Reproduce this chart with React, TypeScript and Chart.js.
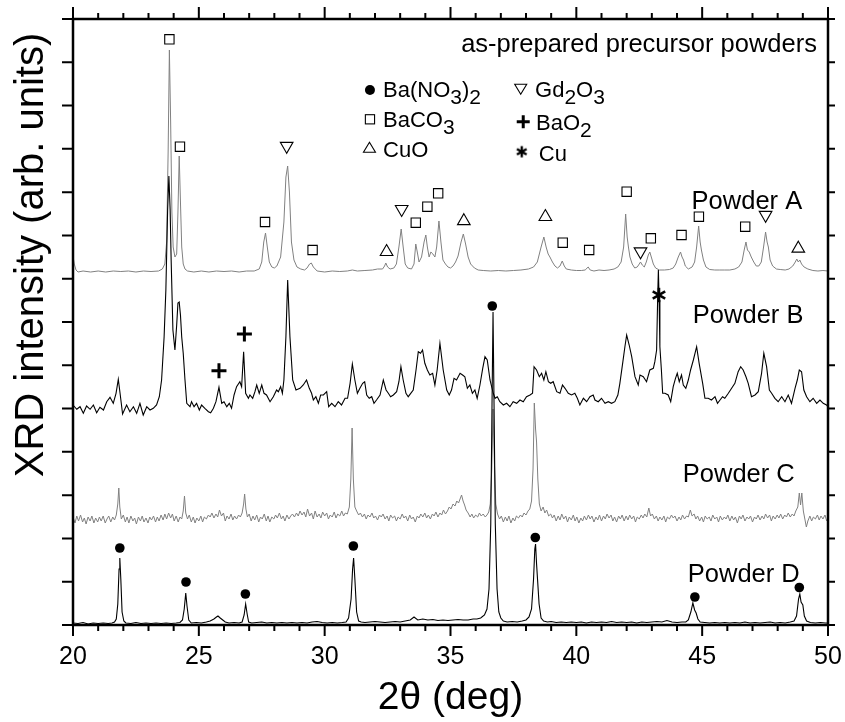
import React, { useEffect, useRef } from "react";
import { Chart, registerables } from "chart.js";

Chart.register(...registerables);

const FONT = "'Liberation Sans', Arial, Helvetica, sans-serif";

// ---- axes ----
const X_MIN = 20;
const X_MAX = 50;
const Y_MAX = 606; // arbitrary intensity units
const Y_TICK_DIVISIONS = 14;
const X_LABEL_STEP = 5;

// vertical offsets of the stacked patterns (arb. units)
const OFFSET_A = 353;
const OFFSET_B = 215;
const OFFSET_C = 106;
const OFFSET_D = 1;

// ---- patterns: [2theta (deg), intensity above own baseline] ----
const powderA: number[][] = [
  [20.0, 16], [20.05, 8], [20.12, 2], [20.2, 0], [20.4, 1], [20.7, 0], [21.0, 1], [21.3, 0], [21.6, 1], [21.9, 0.5],
  [22.2, 1], [22.5, 0], [22.8, 1], [23.1, 0.5], [23.4, 1], [23.55, 3], [23.65, 8], [23.72, 30], [23.78, 120], [23.83, 222],
  [23.88, 150], [23.93, 60], [23.98, 25], [24.05, 15], [24.12, 18], [24.17, 60], [24.22, 116], [24.27, 70], [24.32, 25], [24.38, 8],
  [24.45, 3], [24.55, 1], [24.8, 0], [25.1, 1], [25.4, 0], [25.7, 1], [26.0, 0.5], [26.3, 1], [26.6, 0], [26.9, 1],
  [27.2, 1], [27.4, 3], [27.5, 10], [27.58, 30], [27.65, 39], [27.72, 25], [27.8, 10], [27.9, 5], [28.0, 4], [28.1, 6],
  [28.25, 15], [28.38, 50], [28.46, 95], [28.53, 106], [28.6, 80], [28.68, 30], [28.78, 12], [28.9, 5], [29.05, 3], [29.2, 2],
  [29.3, 4], [29.4, 8], [29.47, 9], [29.55, 5], [29.7, 1], [30.0, 0], [30.3, 1], [30.6, 0.5], [30.9, 1], [31.1, 2],
  [31.3, 1], [31.6, 1.5], [31.9, 2], [32.1, 3], [32.3, 3], [32.38, 6], [32.43, 9], [32.5, 5], [32.6, 3], [32.75, 4],
  [32.85, 8], [32.95, 25], [33.04, 43], [33.12, 25], [33.2, 8], [33.3, 4], [33.45, 3], [33.55, 8], [33.62, 28], [33.68, 20],
  [33.75, 10], [33.85, 15], [33.95, 30], [34.02, 37], [34.08, 25], [34.15, 15], [34.22, 20], [34.3, 18], [34.38, 15], [34.45, 25],
  [34.54, 51], [34.62, 30], [34.7, 12], [34.8, 8], [34.9, 5], [35.0, 4], [35.1, 6], [35.2, 10], [35.3, 16], [35.42, 30],
  [35.51, 38], [35.6, 28], [35.7, 15], [35.8, 8], [35.95, 4], [36.1, 2], [36.3, 1.5], [36.6, 1], [36.9, 1.5], [37.2, 1],
  [37.5, 1.5], [37.8, 2], [38.1, 3], [38.3, 5], [38.45, 10], [38.6, 25], [38.71, 35], [38.8, 25], [38.88, 18], [38.95, 15],
  [39.05, 10], [39.15, 6], [39.25, 4], [39.35, 6], [39.44, 11], [39.52, 6], [39.6, 3], [39.8, 2], [40.0, 1.5], [40.2, 1.5],
  [40.35, 2], [40.47, 5], [40.55, 2], [40.7, 1], [40.9, 2], [41.1, 1.5], [41.3, 2], [41.5, 3], [41.65, 5], [41.78, 10],
  [41.88, 25], [41.96, 58], [42.02, 35], [42.07, 25], [42.13, 15], [42.22, 8], [42.32, 4], [42.42, 5], [42.5, 8], [42.55, 10],
  [42.62, 7], [42.7, 5], [42.78, 10], [42.86, 17], [42.92, 20], [42.99, 14], [43.06, 8], [43.15, 4], [43.3, 2], [43.5, 2],
  [43.7, 2.5], [43.85, 4], [43.95, 8], [44.05, 15], [44.14, 20], [44.2, 15], [44.26, 12], [44.33, 6], [44.45, 3], [44.6, 5],
  [44.7, 10], [44.78, 25], [44.86, 46], [44.92, 30], [44.97, 22], [45.05, 12], [45.15, 5], [45.3, 2.5], [45.5, 2], [45.7, 2],
  [45.9, 2], [46.1, 2], [46.3, 3], [46.45, 5], [46.58, 10], [46.67, 22], [46.74, 30], [46.8, 22], [46.87, 20], [46.95, 15],
  [47.05, 10], [47.15, 6], [47.25, 6], [47.35, 10], [47.44, 25], [47.52, 40], [47.58, 30], [47.63, 25], [47.7, 12], [47.8, 6],
  [47.95, 3], [48.1, 2.5], [48.3, 2], [48.45, 3], [48.6, 6], [48.7, 10], [48.76, 13], [48.82, 10], [48.88, 12], [48.95, 8],
  [49.05, 5], [49.2, 3], [49.4, 1.5], [49.6, 1], [49.8, 1.5], [50.0, 1],
];

const powderB: number[][] = [
  [20.0, 5], [20.15, 0.7], [20.28, 3.3], [20.41, -3.3], [20.54, 4], [20.68, 0.7], [20.81, 5], [20.94, -2.7], [21.07, 2.7], [21.21, 0],
  [21.34, 8.3], [21.47, 12.7], [21.6, 6.7], [21.71, 16.7], [21.8, 30.7], [21.87, 16.7], [21.97, -4], [22.13, 5], [22.26, -1.7], [22.4, 3.3],
  [22.53, -3.3], [22.66, 6.7], [22.79, -5], [22.93, 3.3], [23.06, 0], [23.19, 1.7], [23.32, 5], [23.43, 13.3], [23.52, 30], [23.62, 73],
  [23.69, 120], [23.76, 200], [23.81, 234], [23.86, 200], [23.9, 150], [23.97, 80], [24.05, 60], [24.12, 85], [24.17, 107], [24.22, 108],
  [24.27, 95], [24.32, 73], [24.38, 56.7], [24.45, 30], [24.52, 6.7], [24.65, 3.3], [24.71, 8.3], [24.81, 3.3], [24.91, 6.7], [25.02, 0],
  [25.11, 5], [25.24, 1.7], [25.38, -1.7], [25.47, -2.7], [25.58, 1.7], [25.68, 8.3], [25.8, 22.7], [25.91, 6.7], [26.0, 8.3], [26.11, 3.3],
  [26.21, 6.7], [26.3, 1.7], [26.4, 15], [26.5, 23.3], [26.63, 28.3], [26.7, 23.3], [26.78, 58.3], [26.86, 16.7], [26.97, 11.7], [27.03, 15],
  [27.14, 11.7], [27.23, 18.3], [27.3, 25], [27.4, 16.7], [27.5, 25], [27.59, 16.7], [27.69, 15], [27.83, 8.3], [27.96, 13.3], [28.09, 20],
  [28.16, 18.3], [28.25, 23.3], [28.32, 16.7], [28.38, 30], [28.46, 73.3], [28.53, 130], [28.62, 73.3], [28.73, 30], [28.86, 20], [29.02, 21.7],
  [29.15, 25], [29.28, 30], [29.39, 21.7], [29.48, 16.7], [29.55, 10], [29.65, 13.3], [29.75, 6.7], [29.84, 15], [29.95, 15], [30.08, 18.3],
  [30.16, 3.3], [30.28, 6.7], [30.41, 3.3], [30.54, 8.3], [30.67, 5], [30.81, 11.7], [30.91, 11.7], [31.01, 26.7], [31.1, 46], [31.2, 30],
  [31.3, 16.7], [31.4, 21.7], [31.51, 26.7], [31.59, 28.3], [31.67, 15], [31.77, 11.7], [31.87, 13.3], [31.96, 6.7], [32.06, 10], [32.2, 15],
  [32.33, 30], [32.44, 20], [32.53, 16.7], [32.62, 13.3], [32.73, 15], [32.86, 18.3], [32.95, 28.3], [33.03, 43.3], [33.12, 30], [33.23, 16.7],
  [33.32, 13.3], [33.42, 16.7], [33.52, 20], [33.63, 40], [33.72, 58.3], [33.81, 56.7], [33.89, 60], [33.98, 46.7], [34.08, 40], [34.18, 35],
  [34.29, 36.7], [34.38, 25], [34.47, 40], [34.58, 66.7], [34.71, 40], [34.85, 20], [34.95, 15], [35.04, 20], [35.14, 31.7], [35.24, 30],
  [35.38, 36.7], [35.48, 35], [35.57, 33.3], [35.67, 21.7], [35.77, 25], [35.87, 16.7], [35.97, 20], [36.06, 11.7], [36.17, 25], [36.28, 41.7],
  [36.37, 53.3], [36.46, 50], [36.57, 30], [36.7, 16.7], [36.77, 11.7], [36.86, 13.3], [36.96, 8.3], [37.1, 5], [37.23, 6.7], [37.36, 3.3],
  [37.49, 8.3], [37.63, 6.7], [37.76, 10], [37.89, 8.3], [38.02, 13.3], [38.16, 15], [38.26, 16.7], [38.32, 43.3], [38.42, 40], [38.53, 33.3],
  [38.62, 36.7], [38.71, 30], [38.79, 38.3], [38.89, 28.3], [38.98, 26.7], [39.08, 28.3], [39.22, 18.3], [39.35, 16.7], [39.45, 25], [39.55, 21.7],
  [39.68, 16.7], [39.81, 15], [39.94, 16.7], [40.04, 11.7], [40.14, 5], [40.28, 11.7], [40.41, 8.3], [40.54, 13.3], [40.67, 15], [40.74, 10],
  [40.87, 8.3], [41.0, 11.7], [41.14, 6.7], [41.27, 8.3], [41.4, 6.7], [41.53, 8.3], [41.65, 15], [41.73, 26.7], [41.84, 46.7], [41.93, 63.3],
  [42.0, 75], [42.1, 65], [42.2, 53.3], [42.33, 33.3], [42.46, 25], [42.53, 35], [42.66, 33.3], [42.79, 28.3], [42.92, 40], [43.06, 41.7],
  [43.12, 48.3], [43.19, 60], [43.23, 110], [43.26, 140], [43.29, 110], [43.32, 63.3], [43.38, 40], [43.43, 16.7], [43.52, 16.7], [43.65, 15],
  [43.75, 8.3], [43.85, 23.3], [43.94, 31.7], [44.01, 36.7], [44.09, 28.3], [44.18, 35], [44.25, 25], [44.35, 21.7], [44.45, 30], [44.54, 40],
  [44.65, 50], [44.78, 63.3], [44.88, 46.7], [45.02, 26.7], [45.11, 11.7], [45.24, 11.7], [45.37, 10], [45.51, 13.3], [45.61, 6.7], [45.71, 10],
  [45.81, 13.3], [45.9, 11.7], [46.04, 16.7], [46.17, 21.7], [46.3, 26.7], [46.43, 38.3], [46.53, 43.3], [46.63, 40], [46.74, 33.3], [46.83, 26.7],
  [46.96, 13.3], [47.1, 15], [47.23, 18.3], [47.36, 36.7], [47.45, 56.7], [47.56, 43.3], [47.67, 20], [47.76, 16.7], [47.89, 11.7], [48.02, 8.3],
  [48.16, 13.3], [48.29, 8.3], [48.42, 15], [48.55, 6.7], [48.69, 21.7], [48.78, 30], [48.86, 40], [48.95, 38.3], [49.04, 20], [49.15, 13.3],
  [49.28, 8.3], [49.41, 11.7], [49.55, 6.7], [49.68, 10], [49.81, 6.7], [49.94, 5], [50.0, 3],
];

const powderC: number[][] = [
  [20.0, 2], [20.08, -4], [20.15, 3], [20.22, -2], [20.3, 4], [20.38, -3], [20.45, 1], [20.52, -5], [20.6, 2], [20.68, -2],
  [20.75, 3], [20.83, -4], [20.9, 1], [20.98, -3], [21.05, 2], [21.12, -2], [21.2, 3], [21.28, -4], [21.35, 0], [21.42, 3],
  [21.5, -3], [21.58, 2], [21.65, -1], [21.72, 4], [21.78, 15], [21.82, 31], [21.86, 12], [21.92, 0], [22.0, 4], [22.08, -3],
  [22.15, 2], [22.22, -4], [22.3, 3], [22.38, -2], [22.45, 1], [22.52, -5], [22.6, 2], [22.68, -2], [22.75, 3], [22.82, -3],
  [22.9, 1], [22.98, -4], [23.05, 2], [23.12, -1], [23.2, 3], [23.28, -3], [23.35, 2], [23.42, -2], [23.5, 4], [23.58, -1],
  [23.65, 5], [23.72, 0], [23.8, 6], [23.88, 1], [23.95, 5], [24.02, -2], [24.1, 3], [24.18, -3], [24.25, 2], [24.32, 0],
  [24.38, 8], [24.43, 23], [24.48, 6], [24.55, 0], [24.62, 4], [24.7, -3], [24.78, 2], [24.85, -4], [24.92, 1], [25.0, -2],
  [25.08, 3], [25.15, -3], [25.22, 2], [25.3, 0], [25.38, 4], [25.45, 2], [25.52, 6], [25.6, 1], [25.68, 5], [25.75, 2],
  [25.82, 9], [25.9, 3], [25.98, 6], [26.05, -2], [26.12, 3], [26.2, 0], [26.28, 5], [26.35, -1], [26.42, 3], [26.5, 0],
  [26.58, 4], [26.65, 2], [26.72, 6], [26.78, 15], [26.82, 25], [26.87, 10], [26.93, 2], [27.0, 5], [27.08, -2], [27.15, 3],
  [27.22, -1], [27.3, 4], [27.38, -3], [27.45, 2], [27.52, 0], [27.6, 5], [27.68, -2], [27.75, 3], [27.82, -3], [27.9, 2],
  [27.98, 0], [28.05, 4], [28.12, 1], [28.2, 6], [28.28, 0], [28.35, 3], [28.42, -2], [28.5, 4], [28.58, 0], [28.65, 3],
  [28.72, 5], [28.8, 2], [28.88, 6], [28.95, 3], [29.02, 8], [29.1, 4], [29.18, 7], [29.25, 2], [29.32, 10], [29.4, 3],
  [29.48, 6], [29.55, 0], [29.62, 8], [29.7, 2], [29.78, 5], [29.85, 1], [29.92, 7], [30.0, 3], [30.08, 6], [30.15, 0],
  [30.22, 4], [30.3, 2], [30.38, 7], [30.45, 1], [30.52, 5], [30.6, 3], [30.68, 8], [30.75, 3], [30.82, 6], [30.9, 5],
  [30.98, 12], [31.04, 40], [31.09, 91], [31.14, 40], [31.2, 12], [31.27, 8], [31.35, 4], [31.42, 6], [31.5, 2], [31.58, 5],
  [31.65, 0], [31.72, 4], [31.8, 2], [31.88, 6], [31.95, 1], [32.02, 3], [32.1, -1], [32.18, 4], [32.25, 2], [32.32, 5],
  [32.4, 0], [32.48, 3], [32.55, -2], [32.62, 4], [32.7, 1], [32.78, 3], [32.85, -2], [32.92, 2], [33.0, 0], [33.08, 5],
  [33.15, 1], [33.22, 3], [33.3, -2], [33.38, 4], [33.45, 0], [33.52, 2], [33.6, -3], [33.68, 3], [33.75, 1], [33.82, 5],
  [33.9, 2], [33.98, 6], [34.05, 1], [34.12, 4], [34.2, 0], [34.28, 5], [34.35, 3], [34.42, 7], [34.5, 2], [34.58, 6],
  [34.65, 4], [34.72, 9], [34.8, 5], [34.88, 8], [34.95, 12], [35.02, 10], [35.1, 15], [35.18, 13], [35.25, 18], [35.32, 16],
  [35.38, 20], [35.44, 24], [35.5, 18], [35.56, 14], [35.62, 9], [35.7, 6], [35.78, 2], [35.85, 5], [35.92, 1], [36.0, 4],
  [36.08, 2], [36.15, 6], [36.22, 3], [36.3, 5], [36.38, 2], [36.45, 4], [36.52, 7], [36.58, 15], [36.64, 50], [36.69, 110],
  [36.74, 60], [36.8, 15], [36.87, 5], [36.95, 0], [37.02, 3], [37.1, -3], [37.18, 2], [37.25, -2], [37.32, 3], [37.4, -4],
  [37.48, 1], [37.55, -2], [37.62, 3], [37.7, 1], [37.78, 4], [37.85, 2], [37.92, 6], [38.0, 4], [38.08, 8], [38.15, 10],
  [38.22, 18], [38.28, 50], [38.33, 116], [38.38, 90], [38.42, 77], [38.47, 40], [38.53, 15], [38.6, 8], [38.68, 12], [38.75, 6],
  [38.82, 9], [38.9, 3], [38.98, 5], [39.05, 1], [39.12, 4], [39.2, -2], [39.28, 3], [39.35, -1], [39.42, 5], [39.5, 0],
  [39.58, 3], [39.65, -3], [39.72, 2], [39.8, -1], [39.88, 4], [39.95, -2], [40.02, 2], [40.1, -4], [40.18, 1], [40.25, -2],
  [40.32, 3], [40.4, -1], [40.48, 4], [40.55, 0], [40.62, 3], [40.7, -3], [40.78, 2], [40.85, -1], [40.92, 4], [41.0, -2],
  [41.08, 3], [41.15, 0], [41.22, 5], [41.3, 1], [41.38, 4], [41.45, -2], [41.52, 2], [41.6, -3], [41.68, 3], [41.75, 0],
  [41.82, 4], [41.9, -2], [41.98, 3], [42.05, -1], [42.12, 4], [42.2, 0], [42.28, 3], [42.35, -3], [42.42, 2], [42.5, 0],
  [42.58, 4], [42.65, 1], [42.72, 5], [42.8, 2], [42.88, 11], [42.95, 3], [43.02, 5], [43.1, 0], [43.18, 3], [43.25, -2],
  [43.32, 2], [43.4, -1], [43.48, 3], [43.55, -3], [43.62, 2], [43.7, 0], [43.78, 4], [43.85, 1], [43.92, 3], [44.0, -2],
  [44.08, 2], [44.15, -1], [44.22, 4], [44.3, 0], [44.38, 3], [44.45, 2], [44.53, 9], [44.6, 3], [44.68, 5], [44.75, 0],
  [44.82, 3], [44.9, -2], [44.98, 2], [45.05, -3], [45.12, 3], [45.2, 0], [45.28, 2], [45.35, -2], [45.42, 4], [45.5, 0],
  [45.58, 2], [45.65, -3], [45.72, 3], [45.8, -1], [45.88, 2], [45.95, 0], [46.02, 4], [46.1, -2], [46.18, 3], [46.25, -1],
  [46.32, 2], [46.4, -4], [46.48, 3], [46.55, 0], [46.62, 4], [46.7, -2], [46.78, 2], [46.85, 0], [46.92, 3], [47.0, -3],
  [47.08, 2], [47.15, 0], [47.22, 4], [47.3, -1], [47.38, 3], [47.45, 0], [47.52, 5], [47.6, 1], [47.68, 4], [47.75, -2],
  [47.82, 3], [47.9, 0], [47.98, 4], [48.05, 1], [48.12, 5], [48.2, 0], [48.28, 4], [48.35, 2], [48.42, 6], [48.5, 2],
  [48.58, 5], [48.65, 3], [48.72, 8], [48.8, 12], [48.86, 26], [48.91, 14], [48.96, 26], [49.02, 8], [49.08, 0], [49.14, -8],
  [49.2, -2], [49.28, 3], [49.35, -2], [49.42, 2], [49.5, 0], [49.58, 4], [49.65, -1], [49.72, 3], [49.8, 0], [49.88, 4],
  [49.95, -2], [50.0, 2],
];

const powderD: number[][] = [
  [20.0, 1], [20.2, 0.5], [20.4, 1.5], [20.6, 0], [20.8, 1], [21.0, 0.5], [21.2, 1], [21.4, 0.5], [21.55, 1], [21.65, 2],
  [21.72, 5], [21.78, 20], [21.83, 55], [21.86, 66], [21.9, 45], [21.95, 12], [22.02, 3], [22.1, 1], [22.3, 0.5], [22.5, 1.5],
  [22.7, 0.5], [22.9, 1], [23.1, 0.5], [23.3, 1], [23.5, 0.5], [23.7, 1], [23.9, 0.5], [24.1, 1], [24.25, 1.5], [24.35, 4],
  [24.42, 15], [24.48, 31], [24.53, 18], [24.6, 4], [24.7, 1], [24.9, 1.5], [25.1, 1], [25.3, 2], [25.45, 3], [25.6, 5],
  [25.7, 7], [25.76, 8], [25.85, 6], [25.95, 4], [26.05, 2], [26.2, 1], [26.4, 1.5], [26.6, 1], [26.72, 2], [26.8, 9],
  [26.86, 20], [26.92, 10], [26.98, 2], [27.1, 1], [27.3, 1.5], [27.5, 2], [27.7, 1], [27.9, 1.5], [28.1, 1], [28.3, 1.5],
  [28.5, 1], [28.7, 1.5], [28.9, 1], [29.1, 1.5], [29.3, 1], [29.5, 2], [29.7, 2.5], [29.9, 1.5], [30.1, 1], [30.3, 1.5],
  [30.5, 1], [30.7, 1.5], [30.85, 2], [30.95, 6], [31.05, 25], [31.11, 55], [31.15, 66], [31.2, 45], [31.27, 12], [31.35, 3],
  [31.45, 2], [31.6, 1.5], [31.8, 2], [32.0, 2.5], [32.2, 2], [32.4, 1.5], [32.6, 2], [32.8, 2.5], [33.0, 2], [33.2, 3],
  [33.4, 4], [33.55, 7], [33.7, 4], [33.9, 5], [34.1, 4], [34.3, 4.5], [34.5, 3.5], [34.7, 4], [34.9, 3.5], [35.1, 4],
  [35.3, 4.5], [35.5, 4], [35.7, 4], [35.9, 5], [36.05, 5], [36.2, 6], [36.35, 9], [36.45, 15], [36.53, 35], [36.6, 100],
  [36.65, 220], [36.69, 312], [36.73, 220], [36.78, 100], [36.85, 35], [36.92, 12], [37.0, 6], [37.1, 3], [37.25, 2], [37.45, 2.5],
  [37.65, 2], [37.85, 3], [38.0, 4], [38.12, 7], [38.22, 15], [38.3, 45], [38.35, 75], [38.38, 80], [38.42, 60], [38.46, 44],
  [38.52, 20], [38.6, 6], [38.7, 3], [38.85, 2], [39.0, 2.5], [39.2, 1.5], [39.4, 2], [39.6, 1.5], [39.8, 2], [40.0, 1.5],
  [40.2, 2], [40.4, 1], [40.6, 2], [40.8, 1.5], [41.0, 2], [41.2, 1.5], [41.4, 2.5], [41.6, 1.5], [41.8, 2], [42.0, 1.5],
  [42.2, 2], [42.4, 1], [42.6, 2], [42.8, 1.5], [43.0, 2], [43.2, 2.5], [43.4, 2], [43.6, 3.5], [43.8, 2], [44.0, 1.5],
  [44.2, 2], [44.35, 2], [44.45, 4], [44.55, 12], [44.63, 21], [44.7, 14], [44.76, 11], [44.83, 5], [44.92, 2], [45.1, 1.5],
  [45.3, 1], [45.5, 1.5], [45.7, 1], [45.9, 1.5], [46.1, 1], [46.3, 1.5], [46.5, 1], [46.7, 2], [46.9, 1], [47.1, 1.5],
  [47.3, 1], [47.5, 1.5], [47.7, 2], [47.9, 1], [48.1, 1.5], [48.3, 1], [48.5, 2], [48.65, 3], [48.75, 8], [48.83, 25],
  [48.88, 30], [48.93, 22], [49.0, 19], [49.06, 8], [49.15, 3], [49.3, 1.5], [49.5, 1], [49.7, 1.5], [49.9, 1], [50.0, 1],
];

// ---- phase markers: [2theta, absolute y on the stacked axis] ----
const baNO3Marks: number[][] = [
  [21.86, 77], [24.49, 43], [26.85, 31], [31.14, 79], [36.66, 319], [38.37, 87.5], [44.71, 28], [48.86, 37.5],
];
const baCO3Marks: number[][] = [
  [23.83, 585.7], [24.25, 478.3], [27.63, 403], [29.52, 375], [33.62, 402.3], [34.08, 418.3], [34.51, 431.7],
  [39.46, 382.3], [40.51, 375], [42.0, 433.3], [42.96, 386.7], [44.18, 390], [44.87, 408.3], [46.71, 398.3],
];
const gd2O3Marks: number[][] = [[28.49, 479], [33.06, 415.8], [42.55, 373.5], [47.52, 410]];
const cuOMarks: number[][] = [[32.46, 373.2], [35.53, 404], [38.77, 408.2], [48.82, 376.5]];
const baO2Marks: number[][] = [[25.8, 254.3], [26.81, 291]];
const cuMarks: number[][] = [[43.28, 330]];

// ---- text ----
const TITLE_TEXT = "as-prepared precursor powders";
const X_TITLE = "2\u03B8 (deg)";
const Y_TITLE = "XRD intensity (arb. units)";
const TRACE_LABELS = [
  { text: "Powder A", x: 44.58, y: 415.7 },
  { text: "Powder B", x: 44.63, y: 302 },
  { text: "Powder C", x: 44.23, y: 143 },
  { text: "Powder D", x: 44.43, y: 43 },
];
const LEGEND = [
  { sym: "circle", sx: 31.8, sy: 535, tx: 32.32, ty: 528, parts: [["Ba(NO", 0], ["3", 1], [")", 0], ["2", 1]] },
  { sym: "square", sx: 31.8, sy: 505.7, tx: 32.32, ty: 498, parts: [["BaCO", 0], ["3", 1]] },
  { sym: "triUp", sx: 31.78, sy: 477.7, tx: 32.32, ty: 468, parts: [["CuO", 0]] },
  { sym: "triDown", sx: 37.79, sy: 535.7, tx: 38.36, ty: 528, parts: [["Gd", 0], ["2", 1], ["O", 0], ["3", 1]] },
  { sym: "plus", sx: 37.89, sy: 503.3, tx: 38.4, ty: 495, parts: [["BaO", 0], ["2", 1]] },
  { sym: "star", sx: 37.83, sy: 473.3, tx: 38.51, ty: 464.3, parts: [["Cu", 0]] },
];

const GRAY = "#808080";

function toPoints(arr: number[][], offset: number) {
  return arr.map(([x, y]) => ({ x, y: y + offset }));
}

function makeAsterisk(size: number, half: number, lw: number): HTMLCanvasElement {
  const c = document.createElement("canvas");
  c.width = size;
  c.height = size;
  const g = c.getContext("2d")!;
  g.strokeStyle = "#000";
  g.lineWidth = lw;
  const cx = size / 2;
  for (let k = 0; k < 3; k++) {
    const a = Math.PI / 2 + (k * Math.PI) / 3;
    g.beginPath();
    g.moveTo(cx + half * Math.cos(a), cx + half * Math.sin(a));
    g.lineTo(cx - half * Math.cos(a), cx - half * Math.sin(a));
    g.stroke();
  }
  return c;
}

function drawSymbol(ctx: CanvasRenderingContext2D, kind: string, x: number, y: number, star: HTMLCanvasElement) {
  ctx.save();
  ctx.strokeStyle = "#000";
  ctx.fillStyle = "#000";
  ctx.lineWidth = 1.1;
  if (kind === "circle") {
    ctx.beginPath();
    ctx.arc(x, y, 5, 0, Math.PI * 2);
    ctx.fill();
  } else if (kind === "square") {
    ctx.strokeRect(x - 4.6, y - 4.6, 9.2, 9.2);
  } else if (kind === "triUp" || kind === "triDown") {
    const s = kind === "triUp" ? 1 : -1;
    const w = 6;
    const h = 10;
    ctx.beginPath();
    ctx.moveTo(x, y - (s * h) / 2);
    ctx.lineTo(x + w, y + (s * h) / 2);
    ctx.lineTo(x - w, y + (s * h) / 2);
    ctx.closePath();
    ctx.stroke();
  } else if (kind === "plus") {
    ctx.lineWidth = 3;
    ctx.beginPath();
    ctx.moveTo(x - 6.5, y);
    ctx.lineTo(x + 6.5, y);
    ctx.moveTo(x, y - 6.5);
    ctx.lineTo(x, y + 6.5);
    ctx.stroke();
  } else if (kind === "star") {
    ctx.drawImage(star, x - star.width / 2, y - star.height / 2);
  }
  ctx.restore();
}

export default function App() {
  const ref = useRef<HTMLCanvasElement>(null);

  useEffect(() => {
    document.body.style.margin = "0";
    const canvas = ref.current!;
    const bigStar = makeAsterisk(18, 7.2, 2.6);
    const smallStar = makeAsterisk(14, 5.6, 2.4);

    const overlay = {
      id: "overlay",
      afterDraw(chart: any) {
        const { ctx, chartArea } = chart;
        const { left, right, top, bottom } = chartArea;
        const xs = chart.scales.x;
        const ys = chart.scales.y;
        const X = (v: number) => xs.getPixelForValue(v);
        const Y = (v: number) => ys.getPixelForValue(v);
        ctx.save();
        ctx.strokeStyle = "#000";
        ctx.lineWidth = 2;
        ctx.beginPath();
        for (const t of xs.ticks) {
          const p = X(t.value);
          const major = Math.abs(t.value % X_LABEL_STEP) < 1e-6;
          ctx.moveTo(p, bottom);
          ctx.lineTo(p, bottom + (major ? 11 : 6));
          ctx.moveTo(p, top);
          ctx.lineTo(p, top - (major ? 12 : 6));
        }
        for (const t of ys.ticks) {
          const p = Y(t.value);
          ctx.moveTo(left, p);
          ctx.lineTo(left - 11, p);
          ctx.moveTo(right, p);
          ctx.lineTo(right + 7, p);
        }
        ctx.stroke();
        ctx.lineWidth = 2.5;
        ctx.strokeRect(left, top, right - left, bottom - top);

        // y title
        ctx.fillStyle = "#000";
        ctx.save();
        ctx.translate(left - 30, Y(370));
        ctx.rotate(-Math.PI / 2);
        ctx.font = `40px ${FONT}`;
        ctx.textAlign = "center";
        ctx.textBaseline = "alphabetic";
        ctx.fillText(Y_TITLE, 0, 0);
        ctx.restore();

        // annotations
        ctx.font = `25.5px ${FONT}`;
        ctx.textBaseline = "alphabetic";
        ctx.textAlign = "right";
        ctx.fillText(TITLE_TEXT, X(49.56), Y(573));
        ctx.textAlign = "left";
        for (const l of TRACE_LABELS) ctx.fillText(l.text, X(l.x), Y(l.y));

        // legend
        for (const item of LEGEND) {
          drawSymbol(ctx, item.sym, X(item.sx), Y(item.sy), smallStar);
          let px = X(item.tx);
          const py = Y(item.ty);
          for (const [txt, sub] of item.parts as any) {
            ctx.font = sub ? `21px ${FONT}` : `22px ${FONT}`;
            ctx.fillText(txt, px, sub ? py + 7 : py);
            px += ctx.measureText(txt).width;
          }
        }
        ctx.restore();
      },
    };

    const lineDs = (label: string, arr: number[][], offset: number, color: string, width: number) => ({
      label,
      data: toPoints(arr, offset),
      borderColor: color,
      borderWidth: width,
      pointRadius: 0,
      fill: false,
      tension: 0,
    });
    const markDs = (label: string, arr: number[][], style: any, radius: number, extra: any) => ({
      label,
      data: toPoints(arr, 0),
      showLine: false,
      pointStyle: style,
      pointRadius: radius,
      pointBorderColor: "#000",
      pointBackgroundColor: "rgba(0,0,0,0)",
      pointBorderWidth: 1.1,
      ...extra,
    });

    const chart = new Chart(canvas, {
      type: "line",
      data: {
        datasets: [
          markDs("Ba(NO3)2", baNO3Marks, "circle", 4.8, { pointBackgroundColor: "#000", pointBorderWidth: 0 }),
          markDs("BaCO3", baCO3Marks, "rect", 6.6, {}),
          markDs("Gd2O3", gd2O3Marks, "triangle", 7.3, { pointRotation: 180 }),
          markDs("CuO", cuOMarks, "triangle", 7.3, {}),
          markDs("BaO2", baO2Marks, "cross", 7.5, { pointBorderWidth: 3 }),
          markDs("Cu", cuMarks, bigStar, 9, {}),
          lineDs("Powder D", powderD, OFFSET_D, "#000", 1.1),
          lineDs("Powder B", powderB, OFFSET_B, "#000", 1.1),
          lineDs("Powder C", powderC, OFFSET_C, GRAY, 1),
          lineDs("Powder A", powderA, OFFSET_A, GRAY, 1),
        ] as any,
      },
      options: {
        responsive: false,
        animation: false,
        devicePixelRatio: 1,
        events: [],
        layout: { padding: 0 },
        plugins: { legend: { display: false }, tooltip: { enabled: false }, title: { display: false } },
        scales: {
          x: {
            type: "linear",
            position: "bottom",
            min: X_MIN,
            max: X_MAX,
            ticks: {
              stepSize: 1,
              autoSkip: false,
              maxRotation: 0,
              color: "#000",
              padding: 0,
              font: { family: FONT, size: 25 },
              callback: (v: any) => (Math.abs(v % X_LABEL_STEP) < 1e-6 ? String(v) : ""),
            },
            grid: { display: false, drawTicks: true, tickLength: 17 },
            border: { display: false },
            title: { display: true, text: X_TITLE, color: "#000", font: { family: FONT, size: 39 }, padding: 0 },
            afterFit: (s: any) => {
              s.height = 97;
            },
          },
          x2: {
            type: "linear",
            position: "top",
            min: X_MIN,
            max: X_MAX,
            ticks: { display: false, stepSize: 1, padding: 0 },
            grid: { display: false, drawTicks: false },
            border: { display: false },
            afterFit: (s: any) => {
              s.height = 19;
            },
          },
          y: {
            type: "linear",
            position: "left",
            min: 0,
            max: Y_MAX,
            ticks: { display: false },
            grid: { display: false, drawTicks: false },
            border: { display: false },
            afterBuildTicks: (s: any) => {
              s.ticks = Array.from({ length: Y_TICK_DIVISIONS + 1 }, (_, i) => ({ value: (i * Y_MAX) / Y_TICK_DIVISIONS }));
            },
            afterFit: (s: any) => {
              s.width = 73;
            },
          },
          y2: {
            type: "linear",
            position: "right",
            min: 0,
            max: Y_MAX,
            ticks: { display: false },
            grid: { display: false, drawTicks: false },
            border: { display: false },
            afterFit: (s: any) => {
              s.width = 17;
            },
          },
        },
      } as any,
      plugins: [overlay],
    });
    return () => chart.destroy();
  }, []);

  return (
    <div style={{ width: 845, height: 722, background: "#fff" }}>
      <canvas ref={ref} width={845} height={722} style={{ display: "block" }} />
    </div>
  );
}
